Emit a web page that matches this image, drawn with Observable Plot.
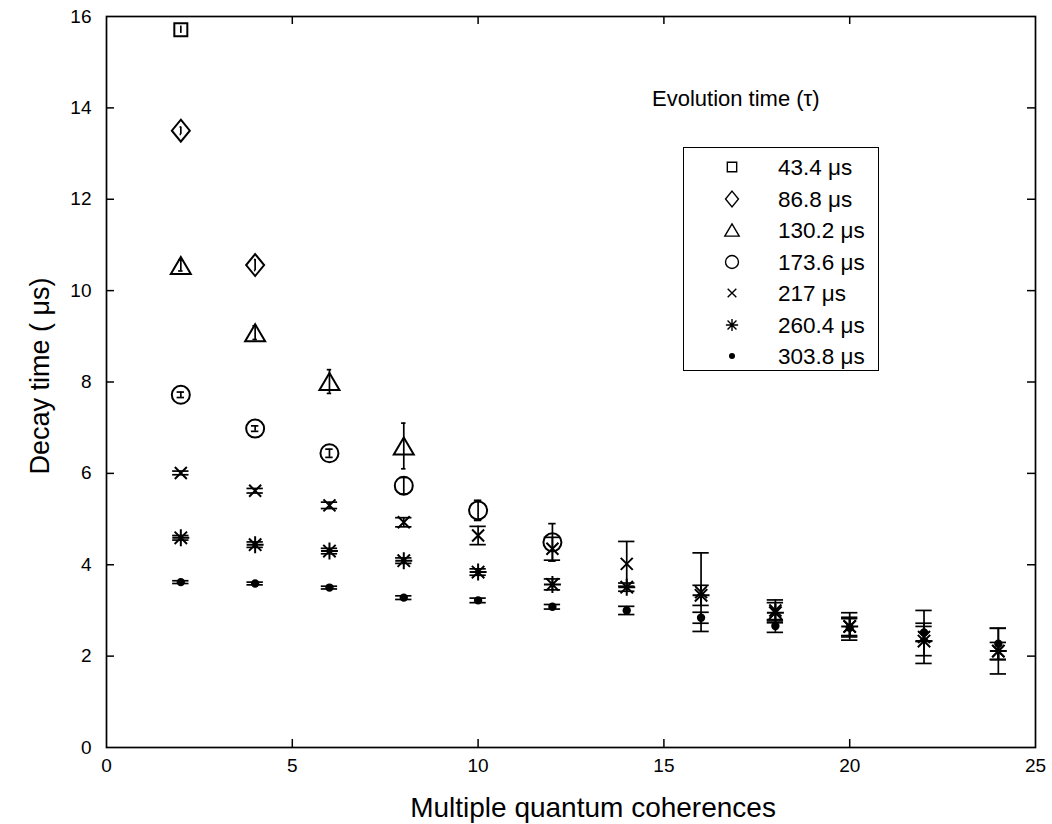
<!DOCTYPE html>
<html><head><meta charset="utf-8">
<script src="https://cdn.jsdelivr.net/npm/d3@7"></script>
<script src="https://cdn.jsdelivr.net/npm/@observablehq/plot@0.6"></script>
<style>
body{margin:0;background:#fff;}
#wrap{position:relative;width:1052px;height:824px;font-family:"Liberation Sans",Arial,sans-serif;color:#000;}
#ltitle{position:absolute;left:652px;top:86px;font-size:22px;white-space:nowrap;}
#lbox{position:absolute;left:683px;top:147px;width:196px;height:224px;border:1.6px solid #000;background:#fff;box-sizing:border-box;}
.lrow{position:absolute;left:0;height:30px;width:195px;}
.lrow svg{position:absolute;left:34px;top:0;}
.lrow span{position:absolute;left:94px;top:3px;font-size:22.5px;white-space:nowrap;}
</style></head><body><div id="wrap"></div>
<script>
// ---- data ----
const coherences = [2, 4, 6, 8, 10, 12, 14, 16, 18, 20, 22, 24];
const tauLabels = ["43.4 μs", "86.8 μs", "130.2 μs", "173.6 μs", "217 μs", "260.4 μs", "303.8 μs"];

const decay43_4 = [15.71];
const err43_4   = [0.08];
const decay86_8 = [13.50, 10.56];
const err86_8   = [0.08, 0.12];
const decay130_2 = [10.55, 9.08, 8.01, 6.60];
const err130_2   = [0.12, 0.15, 0.26, 0.50];
const decay173_6 = [7.72, 6.98, 6.44, 5.73, 5.19, 4.49];
const err173_6   = [0.06, 0.06, 0.09, 0.18, 0.22, 0.41];
const decay217 = [6.01, 5.62, 5.30, 4.93, 4.64, 4.35, 4.02, 3.40, 3.00, 2.65, 2.42, 2.11];
const err217   = [0.04, 0.05, 0.07, 0.10, 0.20, 0.25, 0.49, 0.86, 0.23, 0.30, 0.58, 0.50];
const decay260_4 = [4.59, 4.44, 4.30, 4.09, 3.84, 3.57, 3.51, 3.33, 2.95, 2.65, 2.33, 2.11];
const err260_4   = [0.05, 0.06, 0.06, 0.06, 0.07, 0.12, 0.09, 0.22, 0.22, 0.20, 0.32, 0.19];
const decay303_8 = [3.62, 3.59, 3.50, 3.28, 3.22, 3.08, 3.00, 2.84, 2.66, 2.62, 2.52, 2.27];
const err303_8   = [0.03, 0.03, 0.03, 0.04, 0.05, 0.05, 0.09, 0.12, 0.14, 0.20, 0.20, 0.34];

const xTicks = [0, 5, 10, 15, 20, 25];
const yTicks = [0, 2, 4, 6, 8, 10, 12, 14, 16];
const xLabel = "Multiple quantum coherences";
const yLabel = "Decay time ( μs)";
const legendTitle = "Evolution time (τ)";

// ---- MATLAB-like marker shapes ----
function makeSymbol(kind, k) {
  return {draw(c) {
    if (kind === "square") { const h = 6.5 * k; c.moveTo(-h, -h); c.lineTo(h, -h); c.lineTo(h, h); c.lineTo(-h, h); c.closePath(); }
    else if (kind === "diamond") { const w = 9 * k, h = 11 * k; c.moveTo(0, -h); c.lineTo(w, 0); c.lineTo(0, h); c.lineTo(-w, 0); c.closePath(); }
    else if (kind === "triangle") { const w = 10 * k, h = 8.5 * k; c.moveTo(0, -h); c.lineTo(w, h); c.lineTo(-w, h); c.closePath(); }
    else if (kind === "circle") { const r = 9 * k; c.moveTo(r, 0); c.arc(0, 0, r, 0, 2 * Math.PI); }
    else if (kind === "times") { const h = 6 * k; c.moveTo(-h, -h); c.lineTo(h, h); c.moveTo(h, -h); c.lineTo(-h, h); }
    else if (kind === "star") { const h = 8.5 * k, d = 6.2 * k; c.moveTo(-h, 0); c.lineTo(h, 0); c.moveTo(0, -h); c.lineTo(0, h); c.moveTo(-d, -d); c.lineTo(d, d); c.moveTo(d, -d); c.lineTo(-d, d); }
    else if (kind === "dot") { const r = 3.2 * k; c.moveTo(r, 0); c.arc(0, 0, r, 0, 2 * Math.PI); }
  }};
}
const kinds = ["square", "diamond", "triangle", "circle", "times", "star", "dot"];
const valueArrays = [decay43_4, decay86_8, decay130_2, decay173_6, decay217, decay260_4, decay303_8];
const errorArrays = [err43_4, err86_8, err130_2, err173_6, err217, err260_4, err303_8];

const series = tauLabels.map((label, i) => {
  const rows = valueArrays[i].map((v, j) => ({n: coherences[j], v, e: errorArrays[i][j]}));
  const ns = rows.map(d => d.n);
  const tee = (d3.max(ns) - d3.min(ns)) / 100;
  return {label, rows, tee, kind: kinds[i]};
});

const W = 1052, H = 824, mL = 106, mR = 17, mT = 16, mB = 77;
const innerW = W - mL - mR, innerH = H - mT - mB;
const tick = 8;

const marks = [];
for (const s of series) {
  marks.push(Plot.ruleX(s.rows, {x: "n", y1: d => d.v - d.e, y2: d => d.v + d.e, stroke: "black", strokeWidth: 1.7}));
  marks.push(Plot.ruleY(s.rows, {y: d => d.v + d.e, x1: d => d.n - s.tee, x2: d => d.n + s.tee, stroke: "black", strokeWidth: 1.7}));
  marks.push(Plot.ruleY(s.rows, {y: d => d.v - d.e, x1: d => d.n - s.tee, x2: d => d.n + s.tee, stroke: "black", strokeWidth: 1.7}));
  marks.push(Plot.dot(s.rows, {x: "n", y: "v", symbol: makeSymbol(s.kind, 1), r: 5,
    stroke: "black", strokeWidth: 2, fill: s.kind === "dot" ? "black" : "none"}));
}

const inner = (arr) => arr.slice(1, -1);
const chart = Plot.plot({
  width: W, height: H, marginLeft: mL, marginRight: mR, marginTop: mT, marginBottom: mB,
  style: {fontFamily: '"Liberation Sans", Arial, sans-serif', fontSize: "19px", color: "black", background: "white"},
  x: {domain: [0, 25]},
  y: {domain: [0, 16]},
  marks: [
    ...marks,
    Plot.tickX(inner(xTicks), {x: d => d, insetTop: innerH - tick, stroke: "black", strokeWidth: 1.5}),
    Plot.tickX(inner(xTicks), {x: d => d, insetBottom: innerH - tick, stroke: "black", strokeWidth: 1.5}),
    Plot.tickY(inner(yTicks), {y: d => d, insetRight: innerW - tick, stroke: "black", strokeWidth: 1.5}),
    Plot.tickY(inner(yTicks), {y: d => d, insetLeft: innerW - tick, stroke: "black", strokeWidth: 1.5}),
    Plot.frame({stroke: "black", strokeWidth: 1.7}),
    Plot.axisX(xTicks, {tickSize: 0, tickPadding: 11, fontSize: 19, label: null}),
    Plot.axisY(yTicks, {tickSize: 0, tickPadding: 15, fontSize: 19, label: null}),
    Plot.text([xLabel], {text: d => d, frameAnchor: "bottom", lineAnchor: "middle", textAnchor: "middle", dy: 61, dx: 22, fontSize: 28}),
    Plot.text([yLabel], {text: d => d, frameAnchor: "left", lineAnchor: "middle", textAnchor: "middle", rotate: -90, dx: -66, dy: -6, fontSize: 27})
  ]
});
// make sure tick labels use the intended size
chart.querySelectorAll('g[aria-label="x-axis tick label"], g[aria-label="y-axis tick label"]').forEach(g => {
  g.setAttribute("font-size", "19");
  g.querySelectorAll("text").forEach(t => t.setAttribute("font-size", "19"));
});
const wrap = document.getElementById("wrap");
wrap.appendChild(chart);

// ---- legend ----
const lt = document.createElement("div");
lt.id = "ltitle"; lt.textContent = legendTitle; wrap.appendChild(lt);
const box = document.createElement("div");
box.id = "lbox"; wrap.appendChild(box);
series.forEach((s, i) => {
  const row = document.createElement("div");
  row.className = "lrow";
  row.style.top = (4 + i * 31.5) + "px";
  const svg = d3.create("svg").attr("width", 28).attr("height", 30);
  svg.append("path")
    .attr("transform", "translate(14,15)")
    .attr("d", d3.symbol(makeSymbol(s.kind, 0.72), 0)())
    .attr("fill", s.kind === "dot" ? "black" : "none")
    .attr("stroke", "black").attr("stroke-width", 1.4);
  row.appendChild(svg.node());
  const sp = document.createElement("span");
  sp.textContent = s.label;
  row.appendChild(sp);
  box.appendChild(row);
});
</script>
</body></html>
